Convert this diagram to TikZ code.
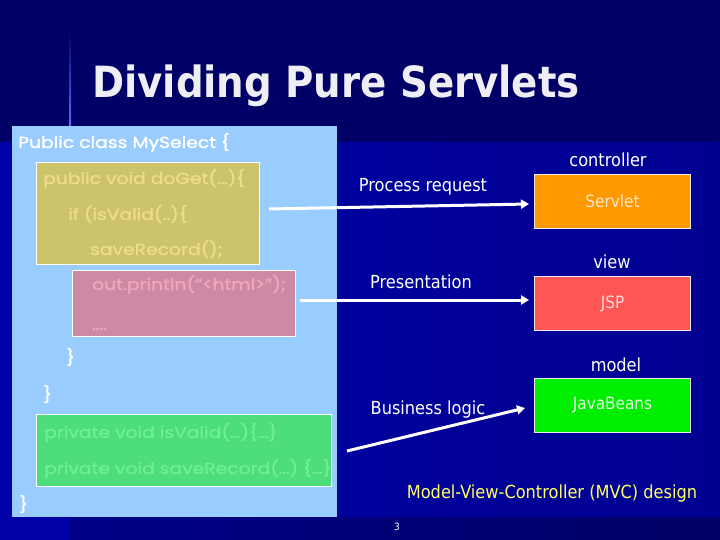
\documentclass[tikz,border=0pt]{standalone}
\usepackage{fontspec}
\usetikzlibrary{arrows.meta}
\setmainfont{DejaVu Sans Condensed}
\newfontfamily\tah{DejaVu Sans Condensed}
\newfontfamily\comic[FakeStretch=1.17,FakeBold=1.2]{Poppins}
\definecolor{navy}{HTML}{000066}
\definecolor{midblue}{HTML}{0000A8}
\definecolor{deepblue}{HTML}{000090}
\definecolor{lightbox}{HTML}{99CCFF}
\definecolor{olivebox}{HTML}{CCC46A}
\definecolor{olivetext}{HTML}{F0DC8C}
\definecolor{pinkbox}{HTML}{CC8AA4}
\definecolor{pinktext}{HTML}{F2A6BC}
\definecolor{greenbox}{HTML}{4DDD7A}
\definecolor{greentext}{HTML}{70F090}
\definecolor{orangebox}{HTML}{FF9900}
\definecolor{redbox}{HTML}{FF5555}
\definecolor{beanbox}{HTML}{00EE00}
\definecolor{titlecol}{HTML}{EEEEF4}
\definecolor{mvccol}{HTML}{FFFF66}
\tikzset{
  codebox/.style={draw=white, line width=0.8bp},
  mvcbox/.style={draw=white!85!gray, line width=0.8bp, minimum width=156bp, minimum height=54bp, inner sep=0pt},
  code/.style={font=\comic\fontsize{16bp}{18bp}\selectfont, anchor=base west, inner sep=0pt},
  lbl/.style={font=\tah\fontsize{18bp}{20bp}\selectfont, text=white, anchor=base, inner sep=0pt},
  arr/.style={draw=white, line width=3bp, -{Triangle[length=8bp,width=9bp]}},
}
\begin{document}
\begin{tikzpicture}[x=1bp,y=-1bp]
\useasboundingbox (0,0) rectangle (720,540);
% background
\fill[navy] (0,0) rectangle (720,540);
\shade[left color=midblue, right color=deepblue] (0,143) rectangle (720,517);
\fill[midblue] (0,517) rectangle (70,540);
\shade[left color=deepblue!80!navy, right color=navy] (70,517) rectangle (720,540);
\shade[top color=navy, bottom color=blue!60!white] (69,30) rectangle (71,126);
% left code panel
\fill[lightbox] (12,126) rectangle (337,517);
\filldraw[codebox, fill=olivebox] (36,162) rectangle (259,264);
\filldraw[codebox, fill=pinkbox] (72,270) rectangle (295,336);
\filldraw[codebox, fill=greenbox] (36,414) rectangle (331,486);
\node[code, text=white] (c1) at (18,148) {Public class MySelect \{};
\node[code, text=olivetext] (c2) at (43,184) {public void doGet(…)\{};
\node[code, text=olivetext] (c3) at (68,220) {if (isValid(..)\{};
\node[code, text=olivetext] (c4) at (90,255) {saveRecord();};
\node[code, text=pinktext] (c5) at (92,290) {out.println(“<html>”);};
\node[code, text=pinktext] (c6) at (92,330) {….};
\node[code, text=white] (c7) at (66,363) {\}};
\node[code, text=white] (c8) at (43,400) {\}};
\node[code, text=greentext] (c9) at (44,438) {private void isValid(…)\{…\}};
\node[code, text=greentext] (c10) at (44,474) {private void saveRecord(…) \{…\}};
\node[code, text=white] (c11) at (19,510) {\}};
% title
\node[font=\tah\bfseries\fontsize{43bp}{48bp}\selectfont, text=titlecol, anchor=base west, inner sep=0pt] (title) at (92,98) {Dividing Pure Servlets};
% MVC boxes
\node[mvcbox, fill=orangebox, text=orange!20!white, font=\tah\fontsize{17bp}{19bp}\selectfont] (servlet) at (612.5,201) {Servlet};
\node[mvcbox, fill=redbox, text=red!15!white, font=\tah\fontsize{17bp}{19bp}\selectfont] (jsp) at (612.5,303.5) {JSP};
\node[mvcbox, fill=beanbox, text=white!90!green, font=\tah\fontsize{17bp}{19bp}\selectfont] (beans) at (612.5,405) {JavaBeans};
\node[lbl] (controller) at (608,167) {controller};
\node[lbl] (view) at (612,269) {view};
\node[lbl] (model) at (616,371) {model};
\node[lbl] (preq) at (423,192) {Process request};
\node[lbl] (pres) at (421,288) {Presentation};
\node[lbl] (blog) at (428,414) {Business logic};
\node[lbl, text=mvccol] (mvc) at (552,498) {Model-View-Controller (MVC) design};
\node[font=\tah\fontsize{10bp}{12bp}\selectfont, text=white, anchor=base, inner sep=0pt] (pg) at (397,530) {3};
% arrows
\coordinate (a1s) at (269,209);
\coordinate (a1e) at (529,204);
\coordinate (a2s) at (300,300);
\coordinate (a2e) at (529,300);
\coordinate (a3s) at (347,451);
\coordinate (a3e) at (525,408);
\draw[arr] (a1s) -- (a1e);
\draw[arr] (a2s) -- (a2e);
\draw[arr] (a3s) -- (a3e);
\end{tikzpicture}
\end{document}
